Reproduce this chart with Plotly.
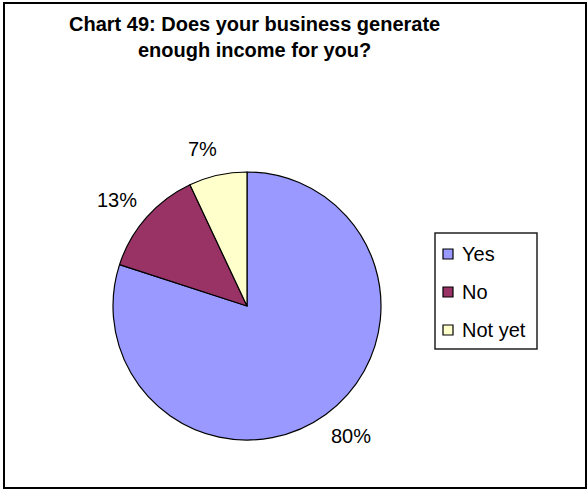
import math
import plotly.graph_objects as go

# Survey answers and their shares (percent)
categories = ["Yes", "No", "Not yet"]
shares = [80, 13, 7]
slice_colors = ["#9999FF", "#993366", "#FFFFCC"]
chart_title = "Chart 49: Does your business generate<br>enough income for you?"

W, H = 588, 490
FONT = "Liberation Sans, Arial, sans-serif"

# pie placement in pixels
cx, cy, R = 247, 306, 134


def px(x):
    return x / W


def py(y):
    return 1 - y / H


fig = go.Figure(
    go.Pie(
        labels=categories,
        values=shares,
        sort=False,
        direction="clockwise",
        rotation=0,
        marker=dict(colors=slice_colors, line=dict(color="black", width=1.2)),
        textinfo="none",
        hoverinfo="label+percent",
        showlegend=False,
        domain=dict(x=[px(cx - R), px(cx + R)], y=[py(cy + R), py(cy - R)]),
    )
)

annotations = []
shapes = []

# chart heading (two lines)
annotations.append(dict(
    x=px(254), y=py(37), xref="paper", yref="paper",
    text=f"<b>{chart_title}</b>", showarrow=False,
    xanchor="center", yanchor="middle", align="center",
    font=dict(family=FONT, size=20, color="black"),
))

# percentage labels just outside each slice
total = sum(shares)
cum = 0
label_r = 161
for v in shares:
    theta = 2 * math.pi * (cum + v / 2) / total
    cum += v
    s, c = math.sin(theta), math.cos(theta)
    lx = cx + label_r * s + (9 if s > 0 else -9)
    ly = cy - label_r * c
    annotations.append(dict(
        x=px(lx), y=py(ly), xref="paper", yref="paper",
        text=f"{round(100 * v / total)}%", showarrow=False,
        xanchor="center", yanchor="middle",
        font=dict(family=FONT, size=20, color="black"),
    ))

# legend box
lg_x0, lg_x1, lg_y0, lg_y1 = 435, 537, 233, 349
shapes.append(dict(type="rect", xref="paper", yref="paper",
                   x0=px(lg_x0), x1=px(lg_x1), y0=py(lg_y1), y1=py(lg_y0),
                   line=dict(color="#222222", width=1.5), fillcolor="white", layer="below"))
for i, (name, col) in enumerate(zip(categories, slice_colors)):
    yc = 254 + 38 * i
    shapes.append(dict(type="rect", xref="paper", yref="paper",
                       x0=px(443), x1=px(453), y0=py(yc + 5), y1=py(yc - 5),
                       line=dict(color="black", width=1.2), fillcolor=col))
    annotations.append(dict(
        x=px(460), y=py(yc), xref="paper", yref="paper", text=name,
        showarrow=False, xanchor="left", yanchor="middle",
        font=dict(family=FONT, size=20, color="black"),
    ))

# outer chart frame
shapes.append(dict(type="rect", xref="paper", yref="paper",
                   x0=px(4), x1=px(586), y0=py(488), y1=py(3),
                   line=dict(color="black", width=2)))

fig.update_layout(
    width=W, height=H,
    margin=dict(l=0, r=0, t=0, b=0),
    paper_bgcolor="white", plot_bgcolor="white",
    annotations=annotations,
    shapes=shapes,
)

fig.write_html("out.html")
